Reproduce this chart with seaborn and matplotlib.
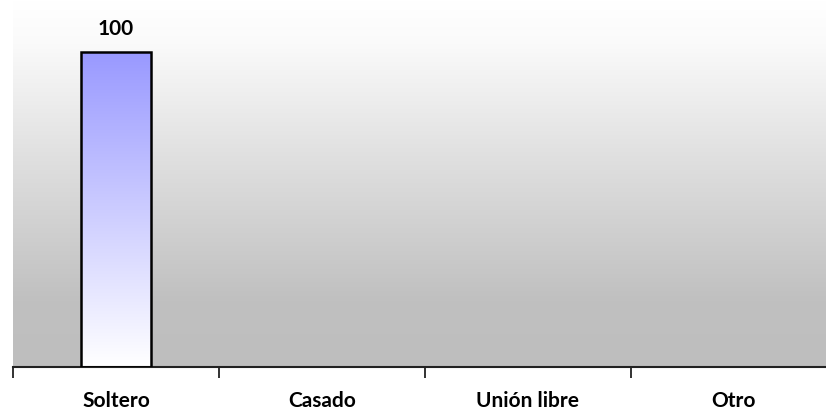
import matplotlib
matplotlib.use("Agg")
import matplotlib.pyplot as plt
import seaborn as sns
import numpy as np
import pandas as pd
from matplotlib.colors import LinearSegmentedColormap

categories = ["Soltero", "Casado", "Unión libre", "Otro"]
values = [100, 0, 0, 0]

sns.set_theme(style="white")
plt.rcParams['font.family'] = ['Lato', 'DejaVu Sans']

df = pd.DataFrame({"cat": categories, "val": values})

fig = plt.figure(figsize=(8.26, 4.13), dpi=100)
W, H = 826, 413
x0, x1 = 13, 837
ybot, ytop = 367, 0
ax = fig.add_axes([x0 / W, (H - ybot) / H, (x1 - x0) / W, (ybot - ytop) / H])

ymax = 100 * (ybot - ytop) / (ybot - 52)

# background gradient
bg = LinearSegmentedColormap.from_list(
    "bg", [(0.0, "#bebebe"), (0.18, "#c0c0c0"), (0.55, "#dedede"),
           (0.88, "#fafafa"), (1.0, "#ffffff")])
grad = np.linspace(0, 1, 256).reshape(-1, 1)
ax.imshow(grad, aspect="auto", cmap=bg, extent=[-0.5, 3.5, 0, ymax],
          origin="lower", zorder=0)

sns.barplot(data=df, x="cat", y="val", ax=ax, width=0.34,
            color="#9999ff", edgecolor="black", linewidth=1.8, zorder=2)

barcm = LinearSegmentedColormap.from_list("bar", ["#ffffff", "#9999ff"])
for p, v in zip(ax.patches, values):
    if v <= 0:
        p.set_visible(False)
        continue
    x, y = p.get_x(), p.get_y()
    w, h = p.get_width(), p.get_height()
    im = ax.imshow(grad, aspect="auto", cmap=barcm, extent=[x, x + w, y, y + h],
                   origin="lower", zorder=2.5)
    im.set_clip_path(p)
    p.set_facecolor("none")
    p.set_zorder(3)
    ax.text(x + w / 2, y + h + ymax * 0.035, f"{v:g}", ha="center", va="bottom",
            fontsize=15, fontweight="bold", color="black")

ax.set_xlim(-0.5, 3.5)
ax.set_ylim(0, ymax)
for s in ["top", "right", "left"]:
    ax.spines[s].set_visible(False)
ax.spines["bottom"].set_color("#222222")
ax.spines["bottom"].set_linewidth(1.5)
ax.set_yticks([])
ax.set_xlabel("")
ax.set_ylabel("")

ax.set_xticks([i for i in range(len(categories))])
ax.set_xticklabels(categories, fontsize=15, fontweight="bold", color="black")
ax.tick_params(axis="x", which="major", length=0, pad=17)
ax.set_xticks([i - 0.5 for i in range(len(categories) + 1)], minor=True)
ax.tick_params(axis="x", which="minor", length=8, width=1.3, color="#222222",
               direction="out", bottom=True)

fig.savefig("out.png", dpi=100)
